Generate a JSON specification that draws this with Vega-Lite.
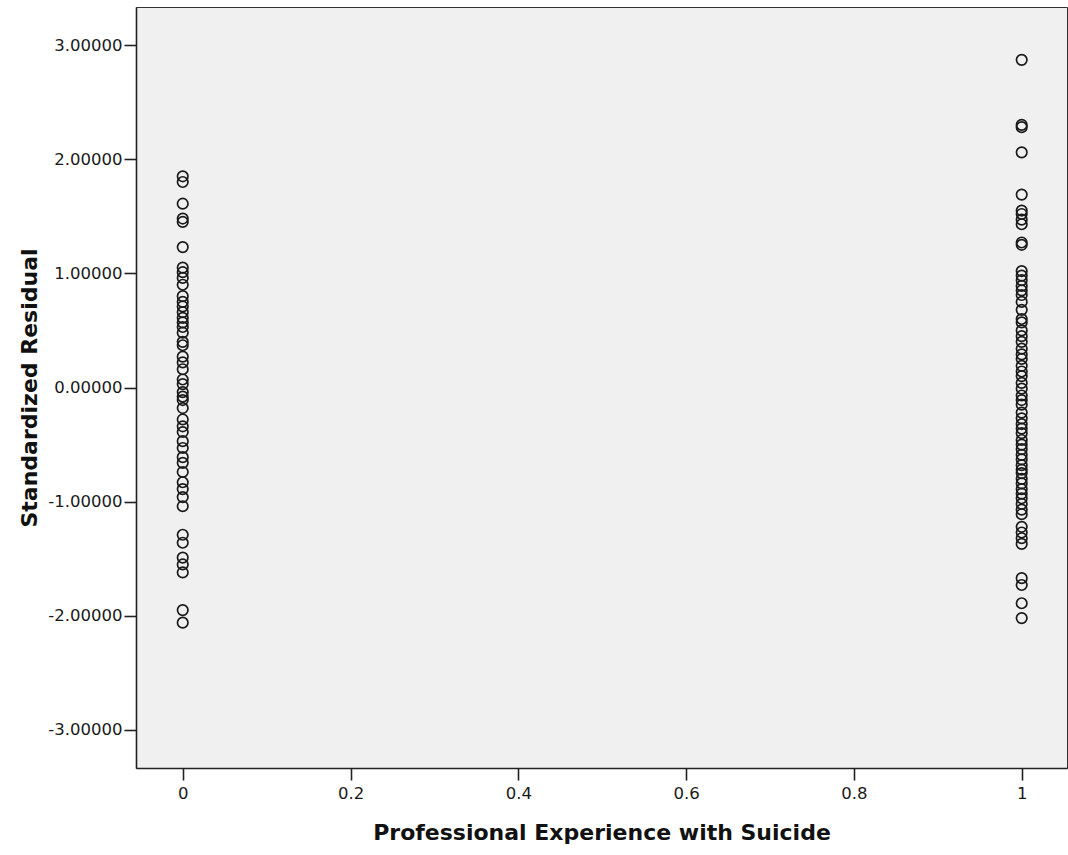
{
  "$schema": "https://vega.github.io/schema/vega-lite/v6.json",
  "width": 931,
  "height": 761,
  "autosize": {"type": "none"},
  "padding": {"left": 136, "top": 7, "right": 1, "bottom": 87},
  "background": "white",
  "config": {
    "view": {"fill": "#f0f0f0", "stroke": "#333333", "strokeWidth": 1},
    "axis": {
      "labelFont": "DejaVu Sans",
      "labelFontSize": 16.5,
      "labelColor": "#1a1a1a",
      "titleFont": "DejaVu Sans",
      "titleFontSize": 22,
      "titleFontWeight": "bold",
      "titleColor": "#111111",
      "domainColor": "#222222",
      "domainWidth": 1.6,
      "tickColor": "#222222",
      "tickWidth": 1.6,
      "tickSize": 12,
      "grid": false
    }
  },
  "data": {
    "values": [
      {"exp": 0, "resid": 1.85}, {"exp": 0, "resid": 1.80}, {"exp": 0, "resid": 1.61},
      {"exp": 0, "resid": 1.48}, {"exp": 0, "resid": 1.45}, {"exp": 0, "resid": 1.23},
      {"exp": 0, "resid": 1.05}, {"exp": 0, "resid": 1.01}, {"exp": 0, "resid": 0.96},
      {"exp": 0, "resid": 0.90}, {"exp": 0, "resid": 0.80}, {"exp": 0, "resid": 0.75},
      {"exp": 0, "resid": 0.71}, {"exp": 0, "resid": 0.66}, {"exp": 0, "resid": 0.61},
      {"exp": 0, "resid": 0.57}, {"exp": 0, "resid": 0.53}, {"exp": 0, "resid": 0.48},
      {"exp": 0, "resid": 0.40}, {"exp": 0, "resid": 0.37}, {"exp": 0, "resid": 0.27},
      {"exp": 0, "resid": 0.22}, {"exp": 0, "resid": 0.16}, {"exp": 0, "resid": 0.07},
      {"exp": 0, "resid": 0.03}, {"exp": 0, "resid": -0.04}, {"exp": 0, "resid": -0.08},
      {"exp": 0, "resid": -0.11}, {"exp": 0, "resid": -0.18}, {"exp": 0, "resid": -0.28},
      {"exp": 0, "resid": -0.34}, {"exp": 0, "resid": -0.39}, {"exp": 0, "resid": -0.47},
      {"exp": 0, "resid": -0.53}, {"exp": 0, "resid": -0.61}, {"exp": 0, "resid": -0.66},
      {"exp": 0, "resid": -0.74}, {"exp": 0, "resid": -0.83}, {"exp": 0, "resid": -0.89},
      {"exp": 0, "resid": -0.96}, {"exp": 0, "resid": -1.04}, {"exp": 0, "resid": -1.29},
      {"exp": 0, "resid": -1.36}, {"exp": 0, "resid": -1.49}, {"exp": 0, "resid": -1.55},
      {"exp": 0, "resid": -1.62}, {"exp": 0, "resid": -1.95}, {"exp": 0, "resid": -2.06},
      {"exp": 1, "resid": 2.87}, {"exp": 1, "resid": 2.30}, {"exp": 1, "resid": 2.28},
      {"exp": 1, "resid": 2.06}, {"exp": 1, "resid": 1.69}, {"exp": 1, "resid": 1.55},
      {"exp": 1, "resid": 1.52}, {"exp": 1, "resid": 1.47}, {"exp": 1, "resid": 1.43},
      {"exp": 1, "resid": 1.27}, {"exp": 1, "resid": 1.25}, {"exp": 1, "resid": 1.02},
      {"exp": 1, "resid": 0.98}, {"exp": 1, "resid": 0.94}, {"exp": 1, "resid": 0.89},
      {"exp": 1, "resid": 0.85}, {"exp": 1, "resid": 0.81}, {"exp": 1, "resid": 0.75},
      {"exp": 1, "resid": 0.68}, {"exp": 1, "resid": 0.60}, {"exp": 1, "resid": 0.57},
      {"exp": 1, "resid": 0.50}, {"exp": 1, "resid": 0.45}, {"exp": 1, "resid": 0.40},
      {"exp": 1, "resid": 0.34}, {"exp": 1, "resid": 0.29}, {"exp": 1, "resid": 0.25},
      {"exp": 1, "resid": 0.19}, {"exp": 1, "resid": 0.14}, {"exp": 1, "resid": 0.10},
      {"exp": 1, "resid": 0.04}, {"exp": 1, "resid": -0.01}, {"exp": 1, "resid": -0.07},
      {"exp": 1, "resid": -0.11}, {"exp": 1, "resid": -0.15}, {"exp": 1, "resid": -0.22},
      {"exp": 1, "resid": -0.27}, {"exp": 1, "resid": -0.32}, {"exp": 1, "resid": -0.36},
      {"exp": 1, "resid": -0.40}, {"exp": 1, "resid": -0.46}, {"exp": 1, "resid": -0.50},
      {"exp": 1, "resid": -0.54}, {"exp": 1, "resid": -0.59}, {"exp": 1, "resid": -0.63},
      {"exp": 1, "resid": -0.68}, {"exp": 1, "resid": -0.72}, {"exp": 1, "resid": -0.75},
      {"exp": 1, "resid": -0.80}, {"exp": 1, "resid": -0.84}, {"exp": 1, "resid": -0.89},
      {"exp": 1, "resid": -0.93}, {"exp": 1, "resid": -0.97}, {"exp": 1, "resid": -1.02},
      {"exp": 1, "resid": -1.07}, {"exp": 1, "resid": -1.11}, {"exp": 1, "resid": -1.22},
      {"exp": 1, "resid": -1.27}, {"exp": 1, "resid": -1.32}, {"exp": 1, "resid": -1.37},
      {"exp": 1, "resid": -1.67}, {"exp": 1, "resid": -1.73}, {"exp": 1, "resid": -1.89},
      {"exp": 1, "resid": -2.02}
    ]
  },
  "mark": {
    "type": "point",
    "shape": "circle",
    "filled": false,
    "size": 110,
    "stroke": "#1a1a1a",
    "strokeWidth": 1.7,
    "opacity": 1
  },
  "encoding": {
    "x": {
      "field": "exp",
      "type": "quantitative",
      "title": "Professional Experience with Suicide",
      "scale": {"domain": [-0.0557, 1.054], "nice": false, "zero": false},
      "axis": {"values": [0, 0.2, 0.4, 0.6, 0.8, 1], "format": "~g", "labelPadding": 5, "titlePadding": 21}
    },
    "y": {
      "field": "resid",
      "type": "quantitative",
      "title": "Standardized Residual",
      "scale": {"domain": [-3.333, 3.333], "nice": false, "zero": false},
      "axis": {
        "values": [-3, -2, -1, 0, 1, 2, 3],
        "format": ".5f",
        "labelExpr": "replace(datum.label, '−', '-')",
        "labelPadding": 2,
        "titlePadding": 6
      }
    }
  }
}
